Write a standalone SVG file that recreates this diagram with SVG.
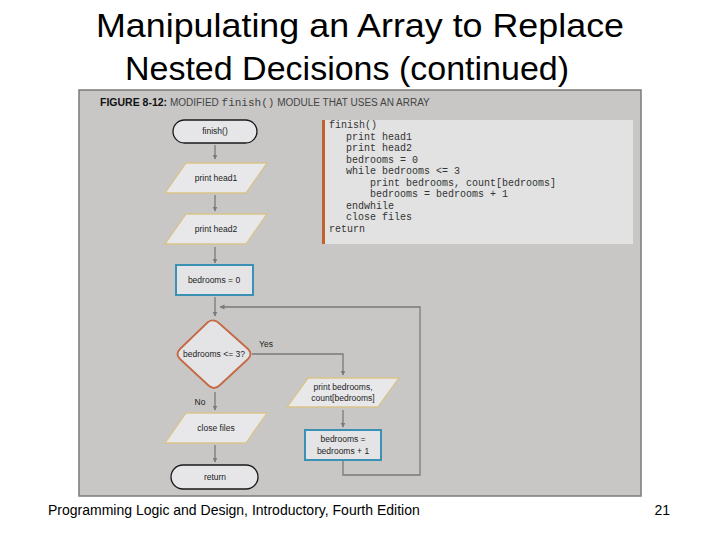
<svg xmlns="http://www.w3.org/2000/svg" width="720" height="540" viewBox="0 0 720 540">
<defs>
<marker id="ah" viewBox="0 0 10 10" refX="9" refY="5" markerWidth="5" markerHeight="6" orient="auto" markerUnits="userSpaceOnUse">
<path d="M0,0 L10,5 L0,10 z" fill="#7a7a7a"/>
</marker>
<style>
.title{font-family:"Liberation Sans",Arial,sans-serif;font-size:34px;fill:#000;text-anchor:middle}
.foot{font-family:"Liberation Sans",Arial,sans-serif;font-size:14px;fill:#000}
.t{font-family:"Liberation Sans",Arial,sans-serif;font-size:8.5px;fill:#222;text-anchor:middle}
.code{font-family:"Liberation Mono","Courier New",monospace;font-size:10px;fill:#333}
.term{fill:#e6e6e8;stroke:#1a1a1a;stroke-width:1.3}
.io{fill:#e8e8ea;stroke:#d8c38a;stroke-width:1.3}
.proc{fill:#e4e4e6;stroke:#3a91b3;stroke-width:2}
.dec{fill:#e4e4e6;stroke:#c46a45;stroke-width:1.8}
.ln{fill:none;stroke:#7a7a7a;stroke-width:1.3}
</style>
</defs>
<rect width="720" height="540" fill="#fff"/>
<text class="title" x="360" y="37" textLength="528" lengthAdjust="spacingAndGlyphs">Manipulating an Array to Replace</text>
<text class="title" x="347" y="80">Nested Decisions (continued)</text>
<rect x="79" y="90" width="562" height="406" fill="#c8c7c5" stroke="#7b7b7b" stroke-width="1.5"/>
<text x="100" y="106" font-family="Liberation Sans,Arial,sans-serif" font-size="10.5" fill="#111"><tspan font-weight="bold">FIGURE 8-12:</tspan><tspan fill="#444" font-size="10"> MODIFIED </tspan><tspan font-family="Liberation Mono,Courier New,monospace" font-size="11" fill="#444">finish()</tspan><tspan fill="#444" font-size="10"> MODULE THAT USES AN ARRAY</tspan></text>
<g id="code">
<rect x="322" y="120" width="311" height="124" fill="#e2e2e2"/>
<rect x="322" y="120" width="3" height="124" fill="#c0622f"/>
<text class="code" x="329" y="128">finish()</text>
<text class="code" x="346" y="140">print head1</text>
<text class="code" x="346" y="151">print head2</text>
<text class="code" x="346" y="163">bedrooms = 0</text>
<text class="code" x="346" y="174">while bedrooms &lt;= 3</text>
<text class="code" x="370" y="186">print bedrooms, count[bedrooms]</text>
<text class="code" x="370" y="197">bedrooms = bedrooms + 1</text>
<text class="code" x="346" y="209">endwhile</text>
<text class="code" x="346" y="220">close files</text>
<text class="code" x="329" y="232">return</text>
</g>
<g id="connectors">
<line class="ln" x1="215" y1="145" x2="215" y2="159" marker-end="url(#ah)"/>
<line class="ln" x1="215" y1="195" x2="215" y2="211" marker-end="url(#ah)"/>
<line class="ln" x1="215" y1="247" x2="215" y2="263" marker-end="url(#ah)"/>
<line class="ln" x1="215" y1="297" x2="215" y2="316" marker-end="url(#ah)"/>
<polyline class="ln" points="252,354 343,354 343,375" marker-end="url(#ah)"/>
<line class="ln" x1="343" y1="410" x2="343" y2="427" marker-end="url(#ah)"/>
<polyline class="ln" points="343,461 343,475 420,475 420,307 220,307" marker-end="url(#ah)"/>
<line class="ln" x1="215" y1="392" x2="215" y2="410" marker-end="url(#ah)"/>
<line class="ln" x1="215" y1="445" x2="215" y2="462" marker-end="url(#ah)"/>
<text class="t" x="266" y="347">Yes</text>
<text class="t" x="200" y="405">No</text>
</g>
<g id="start">
<rect class="term" x="173" y="120" width="84" height="23" rx="11.5"/>
<text class="t" x="215" y="134">finish()</text>
</g>
<g id="head1">
<polygon class="io" points="186,163 267,163 246,193 165,193"/>
<text class="t" x="216" y="181">print head1</text>
</g>
<g id="head2">
<polygon class="io" points="186,214 267,214 246,244 165,244"/>
<text class="t" x="216" y="232">print head2</text>
</g>
<g id="init">
<rect class="proc" x="176" y="265" width="77" height="30"/>
<text class="t" x="214" y="283">bedrooms = 0</text>
</g>
<g id="decision">
<path class="dec" d="M208,322 Q214,318 220,324 L248,349 Q253,354 248,359 L220,385 Q214,391 208,385 L180,359 Q175,354 180,349 Z"/>
<text class="t" x="214" y="357">bedrooms &lt;= 3?</text>
</g>
<g id="printcount">
<polygon class="io" points="308,378 399,378 378,407 287,407"/>
<text class="t" x="343" y="390">print bedrooms,</text>
<text class="t" x="343" y="401">count[bedrooms]</text>
</g>
<g id="incr">
<rect class="proc" x="305" y="430" width="76" height="30"/>
<text class="t" x="343" y="442">bedrooms =</text>
<text class="t" x="343" y="454">bedrooms + 1</text>
</g>
<g id="close">
<polygon class="io" points="186,413 267,413 246,443 165,443"/>
<text class="t" x="216" y="431">close files</text>
</g>
<g id="end">
<rect class="term" x="171" y="465" width="87" height="24" rx="12"/>
<text class="t" x="215" y="480">return</text>
</g>
<text class="foot" x="48" y="515">Programming Logic and Design, Introductory, Fourth Edition</text>
<text class="foot" x="670" y="515" text-anchor="end">21</text>
</svg>
